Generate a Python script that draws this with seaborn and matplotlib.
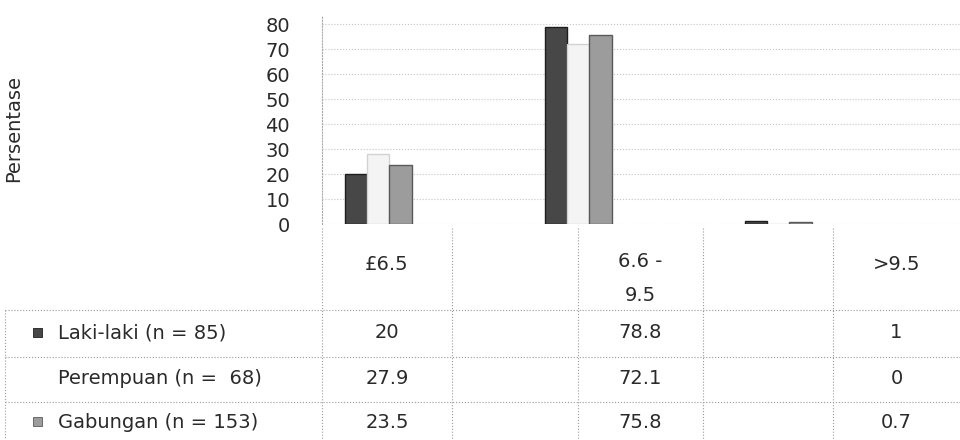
import matplotlib
matplotlib.use("Agg")
import matplotlib.pyplot as plt
import seaborn as sns
import pandas as pd

# Data
kategori = ["£6.5", "6.6 -\n9.5", ">9.5"]
kelompok = ["Laki-laki (n = 85)", "Perempuan (n =  68)", "Gabungan (n = 153)"]
laki_laki = [20, 78.8, 1]
perempuan = [27.9, 72.1, 0]
gabungan = [23.5, 75.8, 0.7]
y_ticks = [0, 10, 20, 30, 40, 50, 60, 70, 80]

warna = ["#474747", "#f4f4f4", "#9c9c9c"]
tepi = ["#1e1e1e", "#d2d2d2", "#5a5a5a"]

nilai = [laki_laki, perempuan, gabungan]
df = pd.DataFrame(
    [(k, g, v) for g, vals in zip(kelompok, nilai) for k, v in zip(kategori, vals)],
    columns=["kategori", "kelompok", "persen"],
)

sns.set_theme(style="white")
plt.rcParams["font.family"] = ["DejaVu Sans"]
FS = 14
TXT = "#2a2a2a"

W, H = 960, 440
fig = plt.figure(figsize=(W / 100, H / 100), dpi=100)

# Chart area (pixel layout converted to figure fractions)
x0, x1, y_zero, y_top = 322, 960, 224, 15
ax = fig.add_axes([x0 / W, (H - y_zero) / H, (x1 - x0) / W, (y_zero - y_top) / H])
sns.barplot(
    data=df, x="kategori", y="persen", hue="kelompok", order=kategori,
    hue_order=kelompok, palette=warna, width=0.335, dodge=True,
    legend=False, ax=ax, linewidth=1.0,
)
for bars, ec in zip(ax.containers, tepi):
    for b in bars:
        b.set_edgecolor(ec)

ax.set_xlim(-0.28, 2.91)
ax.set_ylim(0, (y_zero - y_top) / 2.5)
ax.set_yticks(y_ticks)
ax.set_yticklabels([str(t) for t in y_ticks], fontsize=FS, color=TXT)
ax.tick_params(axis="y", length=0, pad=23)
ax.set_xticks([])
ax.set_xlabel("")
ax.set_ylabel("Persentase", fontsize=FS, color=TXT)
ax.yaxis.set_label_coords((23 - x0) / (x1 - x0), (y_zero - 128) / (y_zero - y_top))
ax.grid(axis="y", linestyle=":", color="#c4c4c4", linewidth=0.8)
ax.set_axisbelow(True)
for s in ["top", "right", "bottom"]:
    ax.spines[s].set_visible(False)
ax.spines["left"].set_linestyle(":")
ax.spines["left"].set_color("#aaaaaa")
ax.spines["left"].set_linewidth(0.8)

# Data table below the chart
tab = fig.add_axes([0, 0, 1, 1])
tab.set_xlim(0, W)
tab.set_ylim(H, 0)
tab.axis("off")
tab.patch.set_alpha(0)

garis = dict(color="#9a9a9a", linestyle=":", linewidth=0.8)
kolom = [322, 452, 578, 703, 833, 960]
for x in kolom[:-1]:
    tab.plot([x, x], [228, H], **garis)
tab.plot([5, 5], [310, H], **garis)
for y in [310, 357, 402]:
    tab.plot([5, W], [y, y], **garis)

pusat = [(kolom[0] + kolom[1]) / 2, (kolom[2] + kolom[3]) / 2, (kolom[4] + kolom[5]) / 2]
for cx, k in zip(pusat, kategori):
    if "\n" in k:
        tab.text(cx, 252, k, ha="center", va="top", fontsize=FS, color=TXT,
                 linespacing=2.0)
    else:
        tab.text(cx, 265, k, ha="center", va="center", fontsize=FS, color=TXT)

baris_y = [333, 378, 422]
for ry, g, vals, c, ec in zip(baris_y, kelompok, nilai, warna, tepi):
    if c != "#f4f4f4":
        tab.add_patch(plt.Rectangle((33, ry - 5), 9, 9, facecolor=c, edgecolor=ec, linewidth=0.6))
    tab.text(58, ry, g, ha="left", va="center", fontsize=FS, color=TXT)
    for cx, v in zip(pusat, vals):
        tab.text(cx, ry, f"{v:g}", ha="center", va="center", fontsize=FS, color=TXT)

fig.savefig("out.png", dpi=100)
